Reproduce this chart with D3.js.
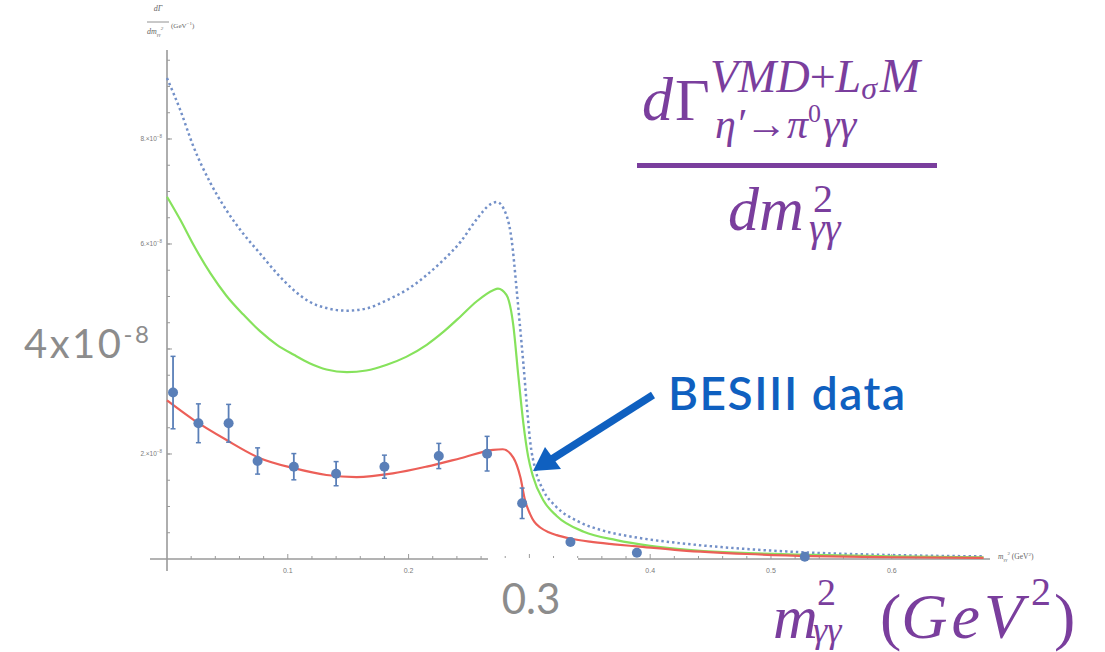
<!DOCTYPE html>
<html><head><meta charset="utf-8">
<script src="https://cdn.jsdelivr.net/npm/d3@7"></script>
<style>body{margin:0;background:#fff;overflow:hidden}</style>
</head><body>
<svg id="c" width="1105" height="652"></svg>
<script>
// ---------- data ----------
const xMajorTicks = [0.1, 0.2, 0.3, 0.4, 0.5, 0.6];
const xTickLabels = ["0.1", "0.2", "0.3", "0.4", "0.5", "0.6"];
const yMajorTicks = [2e-8, 4e-8, 6e-8, 8e-8];
const yLabelTicks = [2e-8, 6e-8, 8e-8];        // 4e-8 label is hidden behind the big annotation
const yTickMantissa = ["2.", "6.", "8."];

// dotted blue curve (units of 1e-8)
const dottedX = [0.000,0.011,0.022,0.036,0.049,0.063,0.077,0.091,0.105,0.118,0.132,0.149,0.165,0.182,0.198,0.215,0.229,0.243,0.256,0.268,0.273,0.281,0.2853,0.2895,0.292,0.295,0.298,0.3005,0.305,0.3115,0.322,0.340,0.361,0.386,0.400,0.425,0.480,0.535,0.600,0.676];
const dottedY = [9.16,8.55,7.85,7.16,6.65,6.20,5.82,5.44,5.12,4.90,4.78,4.73,4.77,4.93,5.12,5.41,5.70,6.04,6.46,6.76,6.80,6.55,6.08,5.12,4.49,3.73,2.90,2.27,1.70,1.31,1.00,0.72,0.54,0.42,0.37,0.30,0.19,0.12,0.075,0.05];
// green curve
const greenX = [0.000,0.011,0.022,0.036,0.049,0.063,0.077,0.091,0.105,0.118,0.132,0.149,0.165,0.182,0.198,0.215,0.229,0.243,0.256,0.270,0.274,0.281,0.2867,0.2908,0.295,0.299,0.303,0.3115,0.3226,0.345,0.372,0.400,0.452,0.535,0.600,0.676];
const greenY = [6.90,6.46,5.98,5.44,5.02,4.66,4.34,4.08,3.89,3.73,3.61,3.56,3.59,3.70,3.85,4.08,4.33,4.62,4.90,5.12,5.15,5.03,4.45,3.50,2.59,1.95,1.57,1.12,0.82,0.52,0.36,0.25,0.14,0.08,0.05,0.03];
// red curve
const redX = [0.000,0.022,0.049,0.077,0.105,0.132,0.157,0.187,0.215,0.243,0.270,0.278,0.2867,0.2925,0.2964,0.3005,0.304,0.309,0.316,0.3226,0.334,0.350,0.370,0.389,0.425,0.480,0.535,0.600,0.676];
const redY = [3.02,2.65,2.27,1.92,1.73,1.60,1.56,1.63,1.76,1.92,2.08,2.09,1.93,1.56,1.12,0.86,0.71,0.60,0.51,0.455,0.39,0.33,0.28,0.24,0.165,0.095,0.055,0.033,0.02];
// BESIII data points
const dataX   = [0.005,0.026,0.051,0.075,0.105,0.140,0.180,0.225,0.265,0.294,0.334,0.389,0.528];
const dataY   = [3.17,2.585,2.585,1.867,1.758,1.625,1.758,1.962,2.006,1.061,0.324,0.12,0.044];
const dataErr = [0.69,0.37,0.36,0.25,0.25,0.23,0.22,0.24,0.33,0.29,0,0,0];
const unit = 1e-8;

// ---------- scales ----------
const svg = d3.select("#c");
const x = d3.scaleLinear().domain([0, 0.68]).range([167, 988.4]);
const y = d3.scaleLinear().domain([0, 9.695e-8]).range([559, 50]);
const axisCol = "#9a9a9a";
const tickCol = "#7a7a7a";

// ---------- axes ----------
const gx = svg.append("g");
gx.append("line").attr("x1", 150).attr("x2", 990).attr("y1", y(0)).attr("y2", y(0))
  .attr("stroke", axisCol).attr("stroke-width", 1.6);
const xMinor = d3.range(0.02, 0.68, 0.02).filter(v => Math.abs(Math.round(v*10)-v*10) > 1e-6);
gx.selectAll(".xmin").data(xMinor).join("line")
  .attr("x1", d => x(d)).attr("x2", d => x(d)).attr("y1", y(0)).attr("y2", y(0)-3)
  .attr("stroke", axisCol).attr("stroke-width", 1);
gx.selectAll(".xmaj").data(xMajorTicks).join("line")
  .attr("x1", d => x(d)).attr("x2", d => x(d)).attr("y1", y(0)).attr("y2", y(0)-5)
  .attr("stroke", axisCol).attr("stroke-width", 1);
gx.selectAll(".xlab").data(xMajorTicks.filter(d => d !== 0.3)).join("text")
  .attr("x", d => x(d)).attr("y", y(0)+14).attr("text-anchor", "middle")
  .attr("font-family", "Liberation Sans, sans-serif").attr("font-size", 7).attr("fill", tickCol)
  .text(d => xTickLabels[xMajorTicks.indexOf(d)]);

const gy = svg.append("g");
gy.append("line").attr("x1", x(0)).attr("x2", x(0)).attr("y1", 50).attr("y2", 571)
  .attr("stroke", axisCol).attr("stroke-width", 1.6);
const yMinor = d3.range(0.5e-8, 9.6e-8, 0.5e-8);
gy.selectAll(".ymin").data(yMinor).join("line")
  .attr("x1", x(0)).attr("x2", x(0)+3).attr("y1", d => y(d)).attr("y2", d => y(d))
  .attr("stroke", axisCol).attr("stroke-width", 1);
gy.selectAll(".ymaj").data(yMajorTicks).join("line")
  .attr("x1", x(0)).attr("x2", x(0)+5).attr("y1", d => y(d)).attr("y2", d => y(d))
  .attr("stroke", axisCol).attr("stroke-width", 1);
const ylab = gy.selectAll(".ylab").data(yLabelTicks).join("text")
  .attr("x", x(0)-5).attr("y", d => y(d)+2.5).attr("text-anchor", "end")
  .attr("font-family", "Liberation Sans, sans-serif").attr("font-size", 6.5).attr("fill", tickCol);
ylab.append("tspan").text((d, i) => yTickMantissa[i] + "×10");
ylab.append("tspan").attr("font-size", 4.5).attr("dy", -3).text("−8");

// axis labels (small)
const small = svg.append("g").attr("font-family", "Liberation Serif, serif").attr("fill", "#666");
small.append("text").attr("x", 158).attr("y", 11).attr("text-anchor", "middle").attr("font-size", 8)
  .attr("font-style", "italic").text("dΓ");
small.append("line").attr("x1", 147).attr("x2", 169).attr("y1", 22).attr("y2", 22).attr("stroke", "#777").attr("stroke-width", 0.8);
const den = small.append("text").attr("x", 147).attr("y", 34).attr("font-size", 8).attr("font-style", "italic");
den.append("tspan").text("dm");
den.append("tspan").attr("font-size", 5).attr("dy", 2).text("γγ");
den.append("tspan").attr("font-size", 5).attr("dy", -6).text("2");
const gev = small.append("text").attr("x", 171).attr("y", 28).attr("font-size", 7);
gev.append("tspan").text("(GeV");
gev.append("tspan").attr("font-size", 5).attr("dy", -3).text("−1");
gev.append("tspan").attr("dy", 3).text(")");
const xl = small.append("text").attr("x", 998).attr("y", 559).attr("font-size", 7.5);
xl.append("tspan").attr("font-style", "italic").text("m");
xl.append("tspan").attr("font-style", "italic").attr("font-size", 5).attr("dy", 2).text("γγ");
xl.append("tspan").attr("font-size", 5).attr("dy", -6).text("2");
xl.append("tspan").attr("dy", 4).text(" (GeV");
xl.append("tspan").attr("font-size", 5).attr("dy", -3).text("2");
xl.append("tspan").attr("dy", 3).text(")");

// ---------- curves ----------
const line = d3.line().x(d => x(d[0])).y(d => y(d[1]*unit)).curve(d3.curveMonotoneX);
svg.append("path").attr("d", line(d3.zip(dottedX, dottedY)))
  .attr("fill", "none").attr("stroke", "#7390c8").attr("stroke-width", 2.5)
  .attr("stroke-dasharray", "2.4,3");
svg.append("path").attr("d", line(d3.zip(greenX, greenY)))
  .attr("fill", "none").attr("stroke", "#86e25c").attr("stroke-width", 2.2);
svg.append("path").attr("d", line(d3.zip(redX, redY)))
  .attr("fill", "none").attr("stroke", "#ec5f58").attr("stroke-width", 2.2);

// ---------- data points ----------
const pts = d3.range(dataX.length).map(i => ({x: dataX[i], y: dataY[i]*unit, e: dataErr[i]*unit}));
const ptCol = "#5a7fb8";
const pg = svg.append("g");
const eb = pts.filter(d => d.e > 0);
pg.selectAll(".eb").data(eb).join("line")
  .attr("x1", d => x(d.x)).attr("x2", d => x(d.x)).attr("y1", d => y(d.y + d.e)).attr("y2", d => y(d.y - d.e))
  .attr("stroke", ptCol).attr("stroke-width", 1.8);
pg.selectAll(".ct").data(eb).join("line")
  .attr("x1", d => x(d.x)-2.5).attr("x2", d => x(d.x)+2.5).attr("y1", d => y(d.y + d.e)).attr("y2", d => y(d.y + d.e))
  .attr("stroke", ptCol).attr("stroke-width", 1.5);
pg.selectAll(".cb").data(eb).join("line")
  .attr("x1", d => x(d.x)-2.5).attr("x2", d => x(d.x)+2.5).attr("y1", d => y(d.y - d.e)).attr("y2", d => y(d.y - d.e))
  .attr("stroke", ptCol).attr("stroke-width", 1.5);
pg.selectAll("circle").data(pts).join("circle")
  .attr("cx", d => x(d.x)).attr("cy", d => y(d.y)).attr("r", 5).attr("fill", ptCol);

// ---------- annotations ----------
const gray = "#8c8c8c";
svg.append("rect").attr("x", 10).attr("y", 318).attr("width", 152).attr("height", 48).attr("fill", "#fff");
const t4 = svg.append("text").attr("x", 24).attr("y", 358).attr("font-family", "Lato, sans-serif")
  .attr("font-size", 40).attr("fill", gray).attr("letter-spacing", 2.5);
t4.append("tspan").text("4x10");
t4.append("tspan").attr("font-size", 24).attr("dy", -15).text("-8");

svg.append("rect").attr("x", 488).attr("y", 558).attr("width", 90).attr("height", 62).attr("fill", "#fff");
svg.append("text").attr("x", 531).attr("y", 614).attr("text-anchor", "middle").attr("font-family", "Lato, sans-serif")
  .attr("font-size", 42).attr("fill", gray).text("0.3");

const blue = "#0f60c0";
svg.append("text").attr("x", 668).attr("y", 410).attr("font-family", "Lato, sans-serif").attr("font-weight", 600)
  .attr("font-size", 46).attr("fill", blue).attr("textLength", 237).attr("lengthAdjust", "spacing").text("BESIII data");
svg.append("line").attr("x1", 653).attr("y1", 395).attr("x2", 552).attr("y2", 459)
  .attr("stroke", blue).attr("stroke-width", 7.5);
svg.append("path").attr("d", "M533,471 L545,447 L561,469 Z").attr("fill", blue);

// formula
const purple = "#7a3e9d";
const fg = svg.append("g").attr("font-family", "Liberation Serif, Times New Roman, serif").attr("fill", purple);
const num = fg.append("text").attr("font-size", 62);
num.append("tspan").attr("x", 642).attr("y", 120).attr("font-style", "italic").text("d");
num.append("tspan").attr("x", 675).attr("y", 120).attr("font-size", 60).text("Γ");
num.append("tspan").attr("x", 710).attr("y", 92).attr("font-size", 46).attr("font-style", "italic").text("VMD");
num.append("tspan").attr("font-size", 46).text("+");
num.append("tspan").attr("font-size", 46).attr("font-style", "italic").text("L");
num.append("tspan").attr("font-size", 32).attr("font-style", "italic").attr("dy", 7).text("σ");
num.append("tspan").attr("font-size", 48).attr("font-style", "italic").attr("dy", -7).attr("dx", 3).text("M");
num.append("tspan").attr("x", 715).attr("y", 138).attr("font-size", 42).attr("font-style", "italic").text("η′");
num.append("tspan").attr("font-size", 42).text("→");
num.append("tspan").attr("font-size", 42).attr("font-style", "italic").text("π");
num.append("tspan").attr("font-size", 26).attr("dy", -16).text("0");
num.append("tspan").attr("font-size", 42).attr("font-style", "italic").attr("dy", 16).attr("dx", 2).text("γγ");
fg.append("rect").attr("x", 637).attr("y", 163).attr("width", 300).attr("height", 5);
const dn = fg.append("text").attr("font-size", 62).attr("font-style", "italic");
dn.append("tspan").attr("x", 728).attr("y", 230).text("dm");
dn.append("tspan").attr("x", 813).attr("y", 212).attr("font-size", 40).attr("font-style", "normal").text("2");
dn.append("tspan").attr("x", 809).attr("y", 241).attr("font-size", 40).text("γγ");

// bottom axis big label
const bl = fg.append("text").attr("font-size", 62);
bl.append("tspan").attr("x", 773).attr("y", 638).attr("font-style", "italic").text("m");
bl.append("tspan").attr("x", 817).attr("y", 605).attr("font-size", 38).text("2");
bl.append("tspan").attr("x", 813).attr("y", 642).attr("font-size", 36).attr("font-style", "italic").text("γγ");
bl.append("tspan").attr("x", 880).attr("y", 638).attr("font-size", 64).text("(");
bl.append("tspan").attr("font-size", 64).attr("font-style", "italic").attr("letter-spacing", 4).text("GeV");
bl.append("tspan").attr("font-size", 40).attr("dy", -33).attr("dx", 4).text("2");
bl.append("tspan").attr("font-size", 64).attr("dy", 33).attr("dx", 3).text(")");
</script>
</body></html>
